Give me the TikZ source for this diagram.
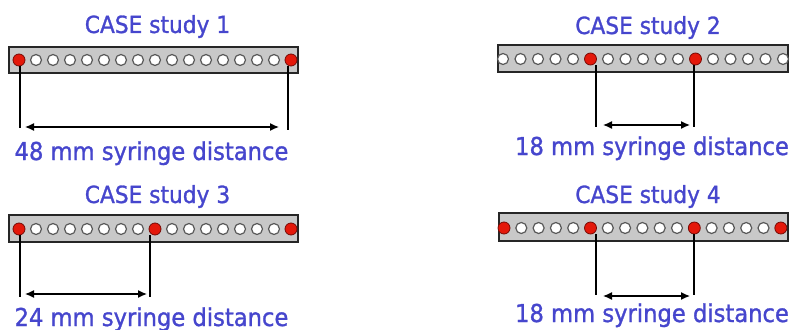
\documentclass[tikz,border=0pt]{standalone}
\usepackage{fontspec}
\setmainfont{DejaVu Sans}
\newfontfamily\casefont[FakeStretch=0.92,FakeBold=1.2]{DejaVu Sans}
\usetikzlibrary{arrows.meta}
\definecolor{txtblue}{RGB}{70,70,205}
\definecolor{barfill}{RGB}{200,200,200}
\definecolor{redhole}{RGB}{228,24,10}
\definecolor{redline}{RGB}{120,10,5}
\tikzset{
  bartitle/.style={text=txtblue, font=\casefont\fontsize{23.6}{26}\selectfont, anchor=base, inner sep=0pt},
  barlabel/.style={text=txtblue, font=\casefont\fontsize{24.6}{27}\selectfont, anchor=base, inner sep=0pt},
  barbox/.style={draw=black!85, line width=1.4pt, fill=barfill},
  hole/.style={circle, draw=black!65, line width=1.2pt, fill=white, minimum size=11pt, inner sep=0pt},
  redhole/.style={circle, draw=redline, line width=0.8pt, fill=redhole, minimum size=12pt, inner sep=0pt},
  dimline/.style={draw=black, line width=1.2pt},
  dimarrow/.style={draw=black, line width=1.3pt, {Latex[length=9pt,width=8pt]}-{Latex[length=9pt,width=8pt]}}
}
\begin{document}
\begin{tikzpicture}[x=1pt,y=-1pt]
\useasboundingbox (0,0) rectangle (791,329);
% ---------- Case 1
\node[bartitle] (t1) at (157.5,33) {CASE study 1};
\draw[barbox] (9,47) rectangle (298,73);
\foreach \i in {0,...,16}{
  \pgfmathsetmacro{\xx}{19+17*\i}
  \ifnum\i=0 \node[redhole] (c1-\i) at (\xx,60) {};
  \else\ifnum\i=16 \node[redhole] (c1-\i) at (\xx,60) {};
  \else \node[hole] (c1-\i) at (\xx,60) {};\fi\fi
}
\coordinate (d1a) at (20,128);
\coordinate (d1b) at (288,130);
\draw[dimline] (c1-0.south -| d1a) -- (d1a);
\draw[dimline] (c1-16.south -| d1b) -- (d1b);
\coordinate (a1a) at (25,127);
\coordinate (a1b) at (279,127);
\draw[dimarrow] (a1a) -- (a1b);
\node[barlabel] (l1) at (151.5,160) {48 mm syringe distance};
% ---------- Case 2
\node[bartitle] (t2) at (648,34) {CASE study 2};
\draw[barbox] (498,45) rectangle (788,72);
\foreach \i in {0,...,16}{
  \pgfmathsetmacro{\xx}{503+17.5*\i}
  \ifnum\i=5 \node[redhole] (c2-\i) at (\xx,59) {};
  \else\ifnum\i=11 \node[redhole] (c2-\i) at (\xx,59) {};
  \else \node[hole] (c2-\i) at (\xx,59) {};\fi\fi
}
\coordinate (d2a) at (596,127);
\coordinate (d2b) at (694,127);
\draw[dimline] (c2-5.south -| d2a) -- (d2a);
\draw[dimline] (c2-11.south -| d2b) -- (d2b);
\coordinate (a2a) at (603,125);
\coordinate (a2b) at (690,125);
\draw[dimarrow] (a2a) -- (a2b);
\node[barlabel] (l2) at (652,155) {18 mm syringe distance};
% ---------- Case 3
\node[bartitle] (t3) at (157.5,203) {CASE study 3};
\draw[barbox] (9,215) rectangle (298,242);
\foreach \i in {0,...,16}{
  \pgfmathsetmacro{\xx}{19+17*\i}
  \ifnum\i=0 \node[redhole] (c3-\i) at (\xx,229) {};
  \else\ifnum\i=8 \node[redhole] (c3-\i) at (\xx,229) {};
  \else\ifnum\i=16 \node[redhole] (c3-\i) at (\xx,229) {};
  \else \node[hole] (c3-\i) at (\xx,229) {};\fi\fi\fi
}
\coordinate (d3a) at (20,297);
\coordinate (d3b) at (150,297);
\draw[dimline] (c3-0.south -| d3a) -- (d3a);
\draw[dimline] (c3-8.south -| d3b) -- (d3b);
\coordinate (a3a) at (25,294);
\coordinate (a3b) at (147,294);
\draw[dimarrow] (a3a) -- (a3b);
\node[barlabel] (l3) at (151.5,326) {24 mm syringe distance};
% ---------- Case 4
\node[bartitle] (t4) at (648,203) {CASE study 4};
\draw[barbox] (499,213) rectangle (788,241);
\foreach \i in {0,...,16}{
  \pgfmathsetmacro{\xx}{504+17.3*\i}
  \ifnum\i=0 \node[redhole] (c4-\i) at (\xx,228) {};
  \else\ifnum\i=5 \node[redhole] (c4-\i) at (\xx,228) {};
  \else\ifnum\i=11 \node[redhole] (c4-\i) at (\xx,228) {};
  \else\ifnum\i=16 \node[redhole] (c4-\i) at (\xx,228) {};
  \else \node[hole] (c4-\i) at (\xx,228) {};\fi\fi\fi\fi
}
\coordinate (d4a) at (596,295);
\coordinate (d4b) at (694,295);
\draw[dimline] (c4-5.south -| d4a) -- (d4a);
\draw[dimline] (c4-11.south -| d4b) -- (d4b);
\coordinate (a4a) at (603,296);
\coordinate (a4b) at (690,296);
\draw[dimarrow] (a4a) -- (a4b);
\node[barlabel] (l4) at (652,322) {18 mm syringe distance};
\end{tikzpicture}
\end{document}
